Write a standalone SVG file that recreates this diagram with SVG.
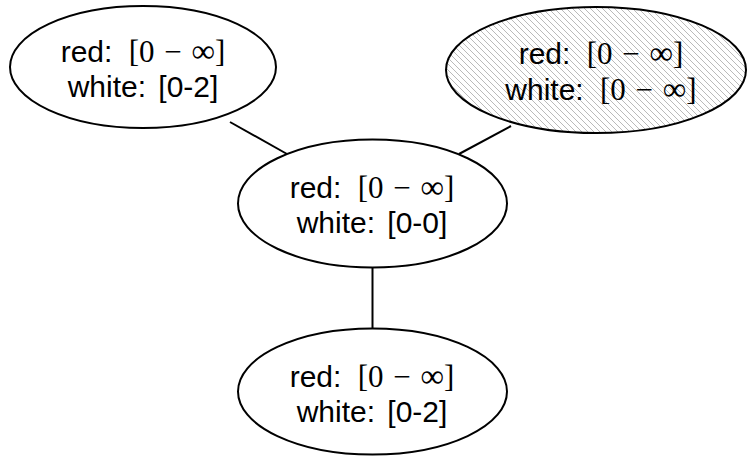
<svg xmlns="http://www.w3.org/2000/svg" width="747" height="456" viewBox="0 0 747 456">
<style>
.node{fill:#fff;stroke:#000;stroke-width:2}
.hatched{fill:url(#nwlines);stroke:#000;stroke-width:2}
.edge{stroke:#000;stroke-width:2;fill:none}
text{font-family:"Liberation Sans",Arial,sans-serif;font-size:30px;fill:#000;text-anchor:middle}
.m{font-family:"Liberation Serif","DejaVu Serif",serif;font-size:31px}
.inf{font-size:33px}
</style>
<defs>
<pattern id="nwlines" patternUnits="userSpaceOnUse" width="6" height="6">
<rect width="6" height="6" fill="#fff"/>
<path d="M-1,-1 L7,7 M-1,5 L1,7 M5,-1 L7,1" stroke="#a8a8a8" stroke-width="0.8"/>
</pattern>
</defs>
<g id="connectors">
<line class="edge" x1="230" y1="122" x2="287" y2="154"/>
<line class="edge" x1="511" y1="126" x2="459" y2="154"/>
<line class="edge" x1="372.5" y1="267" x2="372.5" y2="329"/>
</g>
<g id="node-top-left">
<ellipse class="node" cx="143" cy="67" rx="133" ry="61"/>
<text x="143" y="62">red: <tspan class="m" dx="8">[0 <tspan dx="2">−</tspan> <tspan class="inf" dx="2">∞</tspan>]</tspan></text>
<text x="143" y="97">white: <tspan dx="4">[0-2]</tspan></text>
</g>
<g id="node-top-right">
<ellipse class="hatched" cx="596" cy="70" rx="150" ry="63"/>
<text x="601" y="64">red: <tspan class="m" dx="8">[0 <tspan dx="2">−</tspan> <tspan class="inf" dx="2">∞</tspan>]</tspan></text>
<text x="601" y="100">white: <tspan class="m" dx="8">[0 <tspan dx="2">−</tspan> <tspan class="inf" dx="2">∞</tspan>]</tspan></text>
</g>
<g id="node-center">
<ellipse class="node" cx="372.5" cy="203.5" rx="134.5" ry="64"/>
<text x="372" y="198">red: <tspan class="m" dx="8">[0 <tspan dx="2">−</tspan> <tspan class="inf" dx="2">∞</tspan>]</tspan></text>
<text x="372" y="233">white: <tspan dx="4">[0-0]</tspan></text>
</g>
<g id="node-bottom">
<ellipse class="node" cx="372.5" cy="391.5" rx="134.5" ry="63"/>
<text x="372" y="387">red: <tspan class="m" dx="8">[0 <tspan dx="2">−</tspan> <tspan class="inf" dx="2">∞</tspan>]</tspan></text>
<text x="372" y="422">white: <tspan dx="4">[0-2]</tspan></text>
</g>
</svg>
